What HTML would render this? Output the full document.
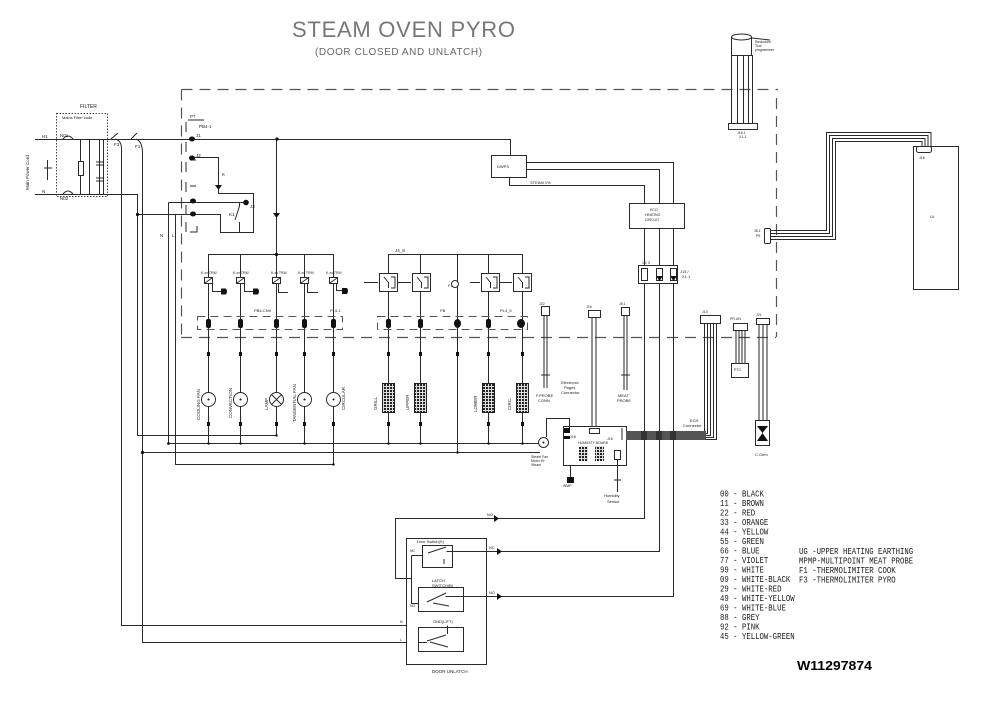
<!DOCTYPE html>
<html><head><meta charset="utf-8">
<style>
html,body{margin:0;padding:0;background:#fff;}
svg{display:block}
text{font-family:"Liberation Sans",sans-serif;fill:#1a1a1a;stroke:none}
.m{font-family:"Liberation Mono",monospace}
</style></head><body>
<svg width="989" height="718" viewBox="0 0 989 718" xmlns="http://www.w3.org/2000/svg">
<defs>
<pattern id="hx" width="3" height="3" patternUnits="userSpaceOnUse"><rect width="3" height="3" fill="#ddd"/><rect width="2" height="2" fill="#222"/></pattern>
</defs>
<rect width="989" height="718" fill="#fff"/>

<!-- Title -->
<text x="292" y="37" font-size="22" textLength="223" lengthAdjust="spacing" style="fill:#777">STEAM OVEN PYRO</text>
<text x="315" y="55" font-size="10" textLength="167" lengthAdjust="spacing" style="fill:#666">(DOOR CLOSED AND UNLATCH)</text>

<!-- Dashed boundary -->
<g fill="none" stroke="#555" stroke-width="1.2" stroke-dasharray="11 7">
<path d="M181.5 89.5H778"/>
<path d="M181.5 89.5V337"/>
<path d="M181 337.5H776"/>
<path d="M776.5 98V337"/>
</g>

<g fill="none" stroke="#2a2a2a" stroke-width="1">
<rect x="56.5" y="113.5" width="51" height="83" stroke-dasharray="1.5 1.5" stroke="#444"/>
<path d="M35 139.5H510.5V155"/>
<path d="M35 194.5H137.5V435.5H277"/>
<path d="M80.5 139V194M89.5 139V194M99.5 139V194M103.5 139V194"/>
<rect x="78.5" y="161.5" width="5" height="14" fill="#fff"/>
<path d="M63 139Q68 133 73 139M63 194Q68 188 73 194"/>
<path d="M96 162H103M96 165H103M96 178H103M96 181H103"/>
<path d="M47.5 160V180M44 168H52"/>
<path d="M111 139L118 133M115 139Q121 140 121.5 148V625.5H447.5V633"/>
<path d="M131 139L137 133M136 139Q142 141 142.5 152V642.5H418"/>
<path d="M137.5 214.5H220.5V232.5H253.5V193.5H218.5V157.5H192"/>
<path d="M168.5 202.5H245M168.5 202.5V443.5H538"/>
<path d="M175.5 214.5V464.5H333.5"/>
<path d="M239.5 202V206L235 220M239.5 222V232"/>
<path d="M186 122V132M186 142V152M186 162V172M186 182V192M186 205V215M186 222V232"/>
<path d="M188 120H204M190 160H196M190 186H196M190 232H197V226"/>
<path d="M218.5 168V178"/>
<path d="M276.5 139V254.5"/>
<path d="M208.5 254.5H333.5"/>
<path d="M208.5 254V443M240.5 254V443M276.5 254V435M304.5 254V443M333.5 254V464"/>
<path d="M388.5 254.5H522.5"/>
<path d="M388.5 254V443M420.5 254V443M457.5 254V452M488.5 254V443M522.5 254V443"/>
<path d="M142.5 452.5H540"/>
<g>
<rect x="204.5" y="277.5" width="8" height="6" fill="#fff"/><path d="M205 283L212 278M212.5 284V291.5H221"/>
<rect x="236.5" y="277.5" width="8" height="6" fill="#fff"/><path d="M237 283L244 278M244.5 284V291.5H253"/>
<rect x="272.5" y="277.5" width="8" height="6" fill="#fff"/><path d="M273 283L280 278M278.5 284V292.5H288"/>
<rect x="300.5" y="277.5" width="8" height="6" fill="#fff"/><path d="M301 283L308 278M307.5 284V292.5H318"/>
<rect x="329.5" y="277.5" width="8" height="6" fill="#fff"/><path d="M330 283L337 278M336.5 284V290.5H342"/>
</g>
<rect x="379.5" y="273.5" width="18" height="18" fill="#fff"/>
<rect x="412.5" y="273.5" width="18" height="18" fill="#fff"/>
<rect x="481.5" y="273.5" width="18" height="18" fill="#fff"/>
<rect x="513.5" y="273.5" width="18" height="18" fill="#fff"/>
<path d="M384 277L388 282M388.5 282V288M391 277H395V288H391M417 277L421 282M421.5 282V288M424 277H428V288H424M486 277L490 282M490.5 282V288M493 277H497V288H493M518 277L522 282M522.5 282V288M525 277H529V288H525"/>
<path d="M364 282.5H378M398 282.5H411M470 282.5H480M500 282.5H512"/>
<circle cx="455" cy="284" r="3.5" fill="#fff"/>
<g stroke-dasharray="8 5" stroke="#555">
<path d="M197.5 316.5H342.5V329.5H197.5Z"/>
<path d="M377.5 316.5H527.5V329.5H377.5Z"/>
</g>
<rect x="491.5" y="155.5" width="35" height="22" fill="#fff"/>
<path d="M527 162.5H673.5V203M527 169.5H659.5V203M509.5 178V185.5H644.5V203"/>
<rect x="629.5" y="203.5" width="55" height="25" fill="#fff"/>
<path d="M644.5 229V518.5H395.5V578.5H411.5M659.5 229V551.5H452M673.5 229V596.5H463"/>
<rect x="638.5" y="265.5" width="39" height="18" fill="#fff"/>
<rect x="641.5" y="268.5" width="6" height="12" fill="#fff"/>
<rect x="656.5" y="268.5" width="6" height="12" fill="#fff"/>
<rect x="670.5" y="268.5" width="6" height="12" fill="#fff"/>
<rect x="541.5" y="306.5" width="8" height="9" fill="#fff"/>
<path d="M544 316V388M547 316V388M541 375H550"/>
<rect x="588.5" y="310.5" width="12" height="7" fill="#fff"/>
<path d="M592 318V428M596 318V428"/>
<rect x="621.5" y="307.5" width="8" height="8" fill="#fff"/>
<path d="M624 316V390M627 316V390M621 375H630"/>
<rect x="700.5" y="315.5" width="20" height="8" fill="#fff"/>
<path d="M704.5 324V431.5H626M707.5 324V433.5H626M710.5 324V435.5H626M713.5 324V437.5H626M716.5 324V439.5H626"/>
<rect x="733.5" y="323.5" width="14" height="7" fill="#fff"/>
<path d="M736 331V363M739 331V363M742 331V363M745 331V363"/>
<rect x="731.5" y="363.5" width="17" height="14" fill="#fff"/>
<rect x="756.5" y="318.5" width="13" height="6" fill="#fff"/>
<path d="M759 325V420M763 325V420M767 325V420"/>
<rect x="755.5" y="420.5" width="14" height="25" fill="#fff"/>
<ellipse cx="741.5" cy="37" rx="10" ry="3" fill="#fff"/>
<path d="M731.5 37V55.5H751.5V37"/>
<path d="M731.5 55V123M737.5 55V123M743.5 55V123M748.5 55V123M752.5 55V123"/>
<rect x="728.5" y="123.5" width="29" height="6" fill="#fff"/>
<path d="M752 38L770 40"/>
<rect x="913.5" y="146.5" width="45" height="143" fill="#fff"/>
<path d="M931 147V132.5H826.5V230.5H770M928 147V135.5H829.5V233.5H770M925 147V138.5H832.5V236.5H770M922 147V141.5H835.5V239.5H770"/>
<rect x="916.5" y="146.5" width="15" height="6" rx="2" fill="#fff"/>
<rect x="764.5" y="228.5" width="6" height="15" rx="1" fill="#fff"/>
<rect x="563.5" y="426.5" width="63" height="39" fill="#fff"/>
<rect x="589.5" y="428.5" width="10" height="5" fill="#fff"/>
<rect x="614.5" y="450.5" width="6" height="9" fill="#fff"/>
<path d="M617.5 460V492M614 480H621"/>
<path d="M569.5 428V418.5H546.5V437"/>
<circle cx="543.5" cy="442.5" r="5" fill="#fff"/>
<path d="M570.5 465V480"/>
<path d="M622 428V440"/>
<rect x="406.5" y="538.5" width="80" height="126" fill="#fff"/>
<path d="M395.5 518.5V578.5H411.5"/>
<rect x="422.5" y="545.5" width="30" height="22" fill="#fff"/>
<rect x="418.5" y="587.5" width="45" height="24" fill="#fff"/>
<rect x="418.5" y="627.5" width="45" height="24" fill="#fff"/>
<path d="M452 551.5H659.5M463 596.5H673.5"/>
<path d="M411.5 555.5H422M411.5 555.5V603.5H418"/>
<path d="M428 553L446 547M446.5 551.5H452M444 559V564"/>
<path d="M427 602L446 593M445.5 596.5H463M433 603L449 606"/>
<path d="M427 641L446 635M447.5 625.5V634M430 642L448 647"/>
<path d="M418 642.5H427"/>
</g>

<g fill="#111" stroke="none">
<circle cx="277" cy="139" r="1.6"/>
<circle cx="137.5" cy="214.5" r="1.6"/>
<circle cx="276.5" cy="254.5" r="1.6"/>
<circle cx="142.5" cy="452.5" r="1.6"/>
<circle cx="168.5" cy="443.5" r="1.4"/>
<ellipse cx="192" cy="139" rx="3" ry="2.5"/>
<ellipse cx="192" cy="158" rx="3" ry="2.5"/>
<ellipse cx="193" cy="201" rx="3" ry="2.5"/>
<ellipse cx="193" cy="214" rx="3" ry="2.5"/>
<circle cx="246" cy="202.5" r="2.8"/>
<path d="M215 185H222L218.5 190Z"/>
<path d="M273 213H280L276.5 218Z"/>
<path d="M221 288.5L226 288.5Q228 291.5 226 294.5L221 294.5Z"/>
<path d="M253 288.5L258 288.5Q260 291.5 258 294.5L253 294.5Z"/>
<path d="M342 288L347 288Q349 291 347 294L342 294Z"/>
<rect x="206" y="319" width="5" height="9" rx="2"/>
<rect x="238" y="319" width="5" height="9" rx="2"/>
<rect x="274" y="319" width="5" height="9" rx="2"/>
<rect x="302" y="319" width="5" height="9" rx="2"/>
<rect x="331" y="319" width="5" height="9" rx="2"/>
<rect x="386" y="319" width="5" height="9" rx="2"/>
<rect x="418" y="319" width="5" height="9" rx="2"/>
<ellipse cx="457.5" cy="323.5" rx="3.5" ry="4.5"/>
<rect x="486" y="319" width="5" height="9" rx="2"/>
<ellipse cx="521" cy="323.5" rx="4" ry="4.5"/>
<g>
<rect x="207" y="352" width="3" height="4"/><rect x="239" y="352" width="3" height="4"/><rect x="275" y="352" width="3" height="4"/><rect x="303" y="352" width="3" height="4"/><rect x="332" y="352" width="3" height="4"/>
<rect x="387" y="352" width="3" height="4"/><rect x="419" y="352" width="3" height="4"/><rect x="456" y="352" width="3" height="4"/><rect x="487" y="352" width="3" height="4"/><rect x="521" y="352" width="3" height="4"/>
<rect x="207" y="422" width="3" height="4"/><rect x="239" y="422" width="3" height="4"/><rect x="275" y="422" width="3" height="4"/><rect x="303" y="422" width="3" height="4"/><rect x="332" y="422" width="3" height="4"/>
<rect x="387" y="422" width="3" height="4"/><rect x="419" y="422" width="3" height="4"/><rect x="487" y="422" width="3" height="4"/><rect x="521" y="422" width="3" height="4"/>
</g>
<circle cx="208.5" cy="443.5" r="1.2"/><circle cx="240.5" cy="443.5" r="1.2"/><circle cx="304.5" cy="443.5" r="1.2"/>
<circle cx="388.5" cy="443.5" r="1.2"/><circle cx="420.5" cy="443.5" r="1.2"/><circle cx="488.5" cy="443.5" r="1.2"/><circle cx="522.5" cy="443.5" r="1.2"/>
<circle cx="457.5" cy="452.5" r="1.2"/><circle cx="333.5" cy="464.5" r="1.2"/><circle cx="276.5" cy="435.5" r="1.2"/>
<path d="M656 276H663L659.5 281Z"/><path d="M670 276H677L673.5 281Z"/>
<rect x="626" y="431" width="80" height="9" fill="#555"/>
<rect x="641" y="431" width="6" height="9" fill="#333"/>
<rect x="656" y="431" width="6" height="9" fill="#333"/>
<rect x="670" y="431" width="6" height="9" fill="#333"/>
<path d="M757 426L768 426L762.5 433Z"/><path d="M757 441L768 441L762.5 433Z"/>
<rect x="564" y="428" width="6" height="5"/><rect x="564" y="436" width="6" height="3"/>
<rect x="579" y="446" width="9" height="15" fill="url(#hx)"/>
<rect x="595" y="446" width="9" height="15" fill="url(#hx)"/>
<rect x="567" y="477" width="7" height="6"/>
<circle cx="543.5" cy="442.5" r="1"/>
<path d="M494 515L499 518.5L494 522Z"/>
<path d="M497 548L502 551.5L497 555Z"/>
<path d="M497 593L502 596.5L497 600Z"/>
</g>

<g fill="#fff" stroke="#2a2a2a" stroke-width="1">
<circle cx="208.5" cy="399.5" r="7"/>
<circle cx="240.5" cy="399.5" r="7"/>
<circle cx="276.5" cy="399.5" r="7"/>
<circle cx="304.5" cy="399.5" r="7"/>
<circle cx="333.5" cy="399.5" r="7"/>
<path d="M271.5 394.5L281.5 404.5M281.5 394.5L271.5 404.5" fill="none"/>
</g>
<g fill="#111"><circle cx="208.5" cy="399.5" r="1"/><circle cx="240.5" cy="399.5" r="1"/><circle cx="304.5" cy="399.5" r="1"/><circle cx="333.5" cy="399.5" r="1"/></g>
<g stroke="#222" stroke-width="1" fill="url(#hx)">
<rect x="382.5" y="383.5" width="12" height="29"/>
<rect x="414.5" y="383.5" width="12" height="29"/>
<rect x="482.5" y="383.5" width="12" height="29"/>
<rect x="516.5" y="383.5" width="12" height="29"/>
</g>

<g font-size="4.5">
<text x="80" y="108" font-size="5">FILTER</text>
<text x="62" y="119" font-size="4">Mains Filter code</text>
<text x="42" y="138">H1</text><text x="42" y="193">N</text>
<text x="60" y="137">N01</text><text x="60" y="200">N02</text>
<text x="114" y="146">F3</text><text x="135" y="148">F1</text>
<text x="160" y="237">N</text><text x="172" y="237">L</text>
<text x="190" y="118">P7</text><text x="199" y="128">PB4-1</text>
<text x="196" y="137">J1</text><text x="196" y="157">J2</text>
<text x="222" y="176">K</text><text x="229" y="216">K1</text>
<text x="250" y="208">J3</text>
<text x="395" y="252">J4_8</text>
<text x="497" y="168" font-size="4">DWPS</text>
<text x="530" y="184" font-size="4">STEAM 1%</text>
<text x="650" y="211" font-size="3.5">ECO</text>
<text x="645" y="216" font-size="3.5">HEATING</text>
<text x="645" y="221" font-size="3.5">CIRCUIT</text>
<text x="680" y="273" font-size="4">J15 /</text><text x="682" y="278" font-size="4">X1.1</text>
<text x="642" y="264" font-size="3.5">1 2 3</text>
<text x="201" y="274" font-size="3.5">K-xx TRM</text><text x="233" y="274" font-size="3.5">K-xx TRM</text><text x="271" y="274" font-size="3.5">K-xx TRM</text><text x="298" y="274" font-size="3.5">K-xx TRM</text><text x="326" y="274" font-size="3.5">K-xx TRM</text>
<text x="254" y="312" font-size="4">PB4-CN9</text><text x="330" y="312" font-size="4">PL4-1</text>
<text x="440" y="312" font-size="4">PB</text><text x="500" y="312" font-size="4">PL4_5</text>
<text x="448" y="287" font-size="4">F1</text>
<text x="539" y="305" font-size="3.5">J22</text><text x="586" y="308" font-size="3.5">J16</text><text x="619" y="305" font-size="3.5">J9.1</text>
<text x="702" y="313" font-size="3.5">J10</text><text x="730" y="320" font-size="3.5">PR.UN</text><text x="756" y="316" font-size="3.5">J21</text>
<text x="536" y="397" font-size="4">F.PROBE</text><text x="538" y="402" font-size="4">CONN</text>
<text x="618" y="397" font-size="4">MEAT</text><text x="617" y="402" font-size="4">PROBE</text>
<text x="561" y="384" font-size="4">Electronic</text><text x="564" y="389" font-size="4">Pages</text><text x="561" y="394" font-size="4">Connector</text>
<text x="690" y="422" font-size="4">ECH</text><text x="683" y="427" font-size="4">Connector</text>
<text x="755" y="456" font-size="4">C.Gem</text>
<text x="570" y="438" font-size="3.5">J18</text><text x="607" y="440" font-size="3.5">J16</text>
<text x="578" y="444" font-size="3.5">HUMIDITY BOARD</text>
<text x="531" y="458" font-size="3.5">Steam Fan</text><text x="531" y="462" font-size="3.5">Motor Hr</text><text x="531" y="466" font-size="3.5">Steam</text>
<text x="563" y="487" font-size="3.5">WMP</text>
<text x="604" y="497" font-size="4">Humidity</text><text x="607" y="503" font-size="4">Sensor</text>
<text x="734" y="371" font-size="3.5">PTC</text>
<text x="755" y="43" font-size="3.5">Reduction</text><text x="755" y="47" font-size="3.5">Tool</text><text x="755" y="51" font-size="3.5">programmer</text>
<text x="737" y="134" font-size="3.5">J18.1</text><text x="739" y="138" font-size="3.5">X1.1</text>
<text x="919" y="159" font-size="3.5">J18</text><text x="930" y="218" font-size="4">UI</text>
<text x="754" y="232" font-size="3.5">J8.1</text><text x="756" y="237" font-size="3.5">P5</text>
<text x="487" y="516" font-size="4">NO</text><text x="489" y="549" font-size="4">NC</text><text x="489" y="594" font-size="4">NO</text>
<text x="417" y="543" font-size="4">Door Switch(S)</text>
<text x="432" y="582" font-size="4">LATCH</text><text x="432" y="587" font-size="4">SWITCH(B)</text>
<text x="433" y="623" font-size="4">GND(LIFT)</text>
<text x="432" y="673" font-size="4.5">DOOR UNLATCH</text>
<text x="410" y="552" font-size="3.5">NC</text><text x="410" y="607" font-size="3.5">NO</text>
<text x="400" y="623" font-size="3.5">N</text><text x="400" y="641" font-size="3.5">L</text>
</g>
<g font-size="4.5">
<text transform="translate(29,190) rotate(-90)">Main Power Cord</text>
<text transform="translate(200,420) rotate(-90)">COOLING FAN</text>
<text transform="translate(232,418) rotate(-90)">CONVECTION</text>
<text transform="translate(268,410) rotate(-90)">LAMP</text>
<text transform="translate(296,422) rotate(-90)">TANGENTIAL FAN</text>
<text transform="translate(345,410) rotate(-90)">CIRCULAR</text>
<text transform="translate(377,410) rotate(-90)">GRILL</text>
<text transform="translate(409,410) rotate(-90)">UPPER</text>
<text transform="translate(477,412) rotate(-90)">LOWER</text>
<text transform="translate(511,410) rotate(-90)">CIRC.</text>
</g>

<g transform="translate(720,0) scale(0.815,1)" font-size="9">
<text x="0" y="496.5" class="m">00 - BLACK</text>
<text x="0" y="506" class="m">11 - BROWN</text>
<text x="0" y="515.5" class="m">22 - RED</text>
<text x="0" y="525" class="m">33 - ORANGE</text>
<text x="0" y="534.5" class="m">44 - YELLOW</text>
<text x="0" y="544" class="m">55 - GREEN</text>
<text x="0" y="553.5" class="m">66 - BLUE</text>
<text x="0" y="563" class="m">77 - VIOLET</text>
<text x="0" y="572.5" class="m">99 - WHITE</text>
<text x="0" y="582" class="m">09 - WHITE-BLACK</text>
<text x="0" y="591.5" class="m">29 - WHITE-RED</text>
<text x="0" y="601" class="m">49 - WHITE-YELLOW</text>
<text x="0" y="610.5" class="m">69 - WHITE-BLUE</text>
<text x="0" y="620" class="m">88 - GREY</text>
<text x="0" y="629.5" class="m">92 - PINK</text>
<text x="0" y="639" class="m">45 - YELLOW-GREEN</text>
<text x="97" y="554" class="m">UG  -UPPER HEATING EARTHING</text>
<text x="97" y="563.5" class="m">MPMP-MULTIPOINT MEAT PROBE</text>
<text x="97" y="573" class="m">F1  -THERMOLIMITER COOK</text>
<text x="97" y="582.5" class="m">F3  -THERMOLIMITER PYRO</text>
</g>
<text x="797" y="670" font-size="13" font-weight="bold" textLength="75" lengthAdjust="spacingAndGlyphs" style="fill:#000">W11297874</text>
</svg>
</body></html>
